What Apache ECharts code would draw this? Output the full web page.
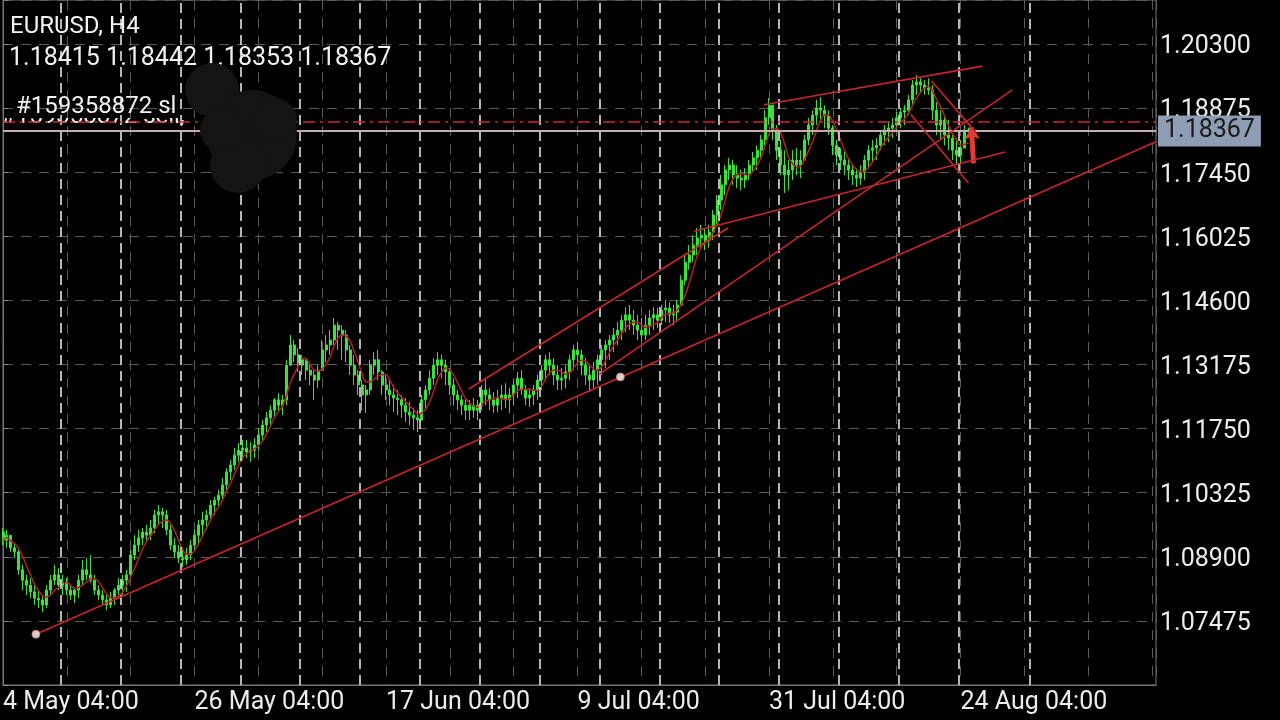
<!DOCTYPE html>
<html><head><meta charset="utf-8">
<script src="https://cdn.jsdelivr.net/npm/echarts@6/dist/echarts.min.js"></script>
<style>html,body{margin:0;padding:0;background:#000;}#c{width:1280px;height:720px;}</style>
</head><body><div id="c"></div>
<script>
const symbolTitle = 'EURUSD, H4';
const lastBarText = '1.18415 1.18442 1.18353 1.18367';
const orderLabel = '#159358872 sl';
const orderLabel2 = '#159358872 sell,';
const xTickLabels = ['4 May 04:00','26 May 04:00','17 Jun 04:00','9 Jul 04:00','31 Jul 04:00','24 Aug 04:00'];
const xLabelEvery = 48;
const yTickLabels = ['1.07475','1.08900','1.10325','1.11750','1.13175','1.14600','1.16025','1.17450','1.18875','1.20300'];
const firstOpen = 1.0945;
const highs = [
1.0954,1.0950,1.0938,1.0921,1.0905,1.0872,1.0850,1.0843,1.0827,1.0816,
1.0805,1.0827,1.0850,1.0872,1.0865,1.0850,1.0843,1.0827,1.0821,1.0850,
1.0883,1.0887,1.0894,1.0850,1.0827,1.0816,1.0805,1.0812,1.0821,1.0843,
1.0850,1.0861,1.0905,1.0938,1.0950,1.0954,1.0961,1.0972,1.0994,1.1005,
1.0999,1.0994,1.0961,1.0932,1.0916,1.0905,1.0910,1.0927,1.0950,1.0972,
1.0990,1.0994,1.1016,1.1023,1.1039,1.1065,1.1087,1.1105,1.1132,1.1143,
1.1150,1.1150,1.1145,1.1154,1.1176,1.1194,1.1212,1.1227,1.1243,1.1254,
1.1250,1.1328,1.1383,1.1372,1.1354,1.1339,1.1332,1.1323,1.1305,1.1316,
1.1372,1.1383,1.1394,1.1421,1.1412,1.1405,1.1394,1.1361,1.1339,1.1305,
1.1283,1.1272,1.1328,1.1345,1.1350,1.1305,1.1294,1.1283,1.1272,1.1261,
1.1250,1.1243,1.1234,1.1221,1.1216,1.1250,1.1272,1.1305,1.1332,1.1345,
1.1339,1.1328,1.1310,1.1287,1.1261,1.1250,1.1243,1.1239,1.1243,1.1239,
1.1272,1.1287,1.1265,1.1256,1.1261,1.1272,1.1276,1.1265,1.1283,1.1301,
1.1305,1.1272,1.1265,1.1272,1.1294,1.1316,1.1339,1.1345,1.1332,1.1316,
1.1310,1.1316,1.1339,1.1361,1.1368,1.1350,1.1332,1.1316,1.1323,1.1339,
1.1361,1.1372,1.1383,1.1399,1.1412,1.1428,1.1445,1.1450,1.1439,1.1428,
1.1421,1.1428,1.1439,1.1445,1.1443,1.1450,1.1461,1.1456,1.1450,1.1461,
1.1516,1.1561,1.1583,1.1605,1.1621,1.1628,1.1621,1.1628,1.1661,1.1694,
1.1739,1.1761,1.1777,1.1772,1.1761,1.1750,1.1754,1.1772,1.1790,1.1805,
1.1828,1.1883,1.1910,1.1894,1.1850,1.1817,1.1794,1.1772,1.1794,1.1799,
1.1794,1.1828,1.1866,1.1883,1.1906,1.1912,1.1894,1.1883,1.1850,1.1817,
1.1799,1.1790,1.1777,1.1761,1.1754,1.1761,1.1783,1.1805,1.1817,1.1821,
1.1839,1.1850,1.1857,1.1866,1.1879,1.1888,1.1894,1.1917,1.1950,1.1961,
1.1954,1.1950,1.1954,1.1939,1.1901,1.1883,1.1872,1.1861,1.1828,1.1821,
1.1817,1.1850,1.18442];
const lows = [
1.0916,1.0910,1.0901,1.0887,1.0850,1.0816,1.0805,1.0798,1.0783,1.0776,
1.0767,1.0776,1.0805,1.0827,1.0816,1.0805,1.0805,1.0794,1.0787,1.0798,
1.0827,1.0838,1.0832,1.0805,1.0794,1.0783,1.0772,1.0776,1.0783,1.0798,
1.0805,1.0812,1.0843,1.0883,1.0901,1.0916,1.0923,1.0927,1.0943,1.0961,
1.0954,1.0938,1.0905,1.0887,1.0876,1.0867,1.0872,1.0883,1.0905,1.0916,
1.0934,1.0950,1.0972,1.0983,1.0999,1.1016,1.1034,1.1061,1.1083,1.1101,
1.1105,1.1110,1.1101,1.1110,1.1127,1.1145,1.1167,1.1183,1.1199,1.1212,
1.1205,1.1227,1.1316,1.1323,1.1301,1.1294,1.1283,1.1272,1.1239,1.1265,
1.1305,1.1323,1.1339,1.1361,1.1350,1.1328,1.1323,1.1294,1.1272,1.1250,
1.1216,1.1210,1.1250,1.1294,1.1283,1.1250,1.1239,1.1227,1.1212,1.1205,
1.1199,1.1190,1.1183,1.1172,1.1167,1.1194,1.1216,1.1250,1.1272,1.1294,
1.1287,1.1272,1.1250,1.1227,1.1216,1.1205,1.1194,1.1194,1.1199,1.1194,
1.1216,1.1227,1.1216,1.1210,1.1212,1.1216,1.1221,1.1210,1.1227,1.1243,
1.1250,1.1227,1.1223,1.1227,1.1239,1.1261,1.1283,1.1294,1.1272,1.1261,
1.1261,1.1265,1.1283,1.1305,1.1316,1.1294,1.1272,1.1256,1.1265,1.1272,
1.1294,1.1310,1.1328,1.1345,1.1361,1.1372,1.1390,1.1394,1.1383,1.1372,
1.1368,1.1372,1.1383,1.1394,1.1399,1.1405,1.1412,1.1410,1.1405,1.1412,
1.1450,1.1494,1.1528,1.1545,1.1561,1.1577,1.1572,1.1577,1.1594,1.1628,
1.1661,1.1694,1.1728,1.1717,1.1710,1.1705,1.1710,1.1728,1.1745,1.1750,
1.1772,1.1805,1.1850,1.1817,1.1772,1.1739,1.1699,1.1705,1.1728,1.1739,
1.1732,1.1772,1.1805,1.1828,1.1850,1.1857,1.1843,1.1828,1.1783,1.1761,
1.1750,1.1739,1.1728,1.1717,1.1712,1.1717,1.1728,1.1754,1.1768,1.1772,
1.1794,1.1805,1.1812,1.1821,1.1834,1.1843,1.1850,1.1872,1.1894,1.1917,
1.1923,1.1917,1.1917,1.1861,1.1828,1.1817,1.1805,1.1794,1.1772,1.1761,
1.1765,1.1799,1.18353];
const closes = [
1.0927,1.0938,1.0910,1.0901,1.0861,1.0838,1.0827,1.0812,1.0798,1.0794,
1.0783,1.0816,1.0838,1.0850,1.0827,1.0834,1.0816,1.0805,1.0816,1.0838,
1.0861,1.0850,1.0838,1.0816,1.0805,1.0794,1.0783,1.0798,1.0816,1.0827,
1.0838,1.0850,1.0894,1.0916,1.0932,1.0945,1.0938,1.0954,1.0983,1.0990,
1.0983,1.0950,1.0916,1.0901,1.0887,1.0883,1.0894,1.0916,1.0938,1.0961,
1.0972,1.0983,1.1005,1.1016,1.1027,1.1050,1.1079,1.1094,1.1116,1.1127,
1.1132,1.1123,1.1127,1.1139,1.1161,1.1183,1.1199,1.1216,1.1239,1.1227,
1.1239,1.1316,1.1361,1.1339,1.1316,1.1328,1.1305,1.1294,1.1283,1.1305,
1.1350,1.1361,1.1372,1.1405,1.1394,1.1383,1.1350,1.1316,1.1294,1.1272,
1.1250,1.1261,1.1316,1.1328,1.1301,1.1272,1.1261,1.1250,1.1243,1.1239,
1.1227,1.1212,1.1205,1.1199,1.1194,1.1239,1.1261,1.1287,1.1316,1.1328,
1.1316,1.1301,1.1272,1.1250,1.1239,1.1227,1.1216,1.1227,1.1216,1.1227,
1.1261,1.1250,1.1239,1.1227,1.1243,1.1250,1.1239,1.1250,1.1272,1.1287,
1.1261,1.1243,1.1250,1.1261,1.1283,1.1305,1.1328,1.1316,1.1294,1.1283,
1.1287,1.1301,1.1328,1.1350,1.1339,1.1316,1.1294,1.1283,1.1305,1.1328,
1.1350,1.1361,1.1372,1.1383,1.1394,1.1416,1.1428,1.1416,1.1405,1.1394,
1.1383,1.1405,1.1421,1.1428,1.1416,1.1439,1.1443,1.1428,1.1434,1.1450,
1.1505,1.1545,1.1561,1.1583,1.1599,1.1605,1.1594,1.1612,1.1650,1.1683,
1.1717,1.1750,1.1761,1.1739,1.1732,1.1728,1.1739,1.1761,1.1777,1.1794,
1.1817,1.1866,1.1894,1.1839,1.1794,1.1761,1.1739,1.1750,1.1772,1.1761,
1.1772,1.1817,1.1850,1.1872,1.1888,1.1883,1.1872,1.1843,1.1805,1.1783,
1.1772,1.1761,1.1750,1.1739,1.1732,1.1745,1.1772,1.1794,1.1799,1.1805,
1.1828,1.1839,1.1843,1.1850,1.1866,1.1879,1.1883,1.1906,1.1939,1.1946,
1.1939,1.1932,1.1928,1.1883,1.1850,1.1861,1.1828,1.1821,1.1794,1.1783,
1.1799,1.1839,1.18367];
const bidPrice = 1.18367;
const slPrice = 1.1858;
const weekStarts = [14.5,29.5,44.5,59.5,74.5,89.5,104.5,119.5,134.5,149.5,164.5,179.5,194.5,209.5,224.5,239.5,257.25];
const trendLines = [
  [[8.25,1.0718],[289,1.1813]],
  [[116.75,1.1263],[181.75,1.1621]],
  [[149.5,1.1296],[253,1.1928]],
  [[173.25,1.1614],[251.25,1.1790]],
  [[190.75,1.1895],[245.5,1.1981]],
  [[232.75,1.1948],[244,1.1832]],
  [[227.5,1.1874],[242,1.1721]]
];
const anchorPoints = [[8.25,1.0718],[154.75,1.1290]];
const arrowLine = [[243.25,1.1765],[242.75,1.1845]];
const maPeriod = 5;

const candleData = closes.map((c, i) => [i, i === 0 ? firstOpen : closes[i-1], c, lows[i], highs[i]]);
const maData = closes.map((c, i) => {
  const s = Math.max(0, i - maPeriod + 1);
  let sum = 0; for (let k = s; k <= i; k++) sum += closes[k];
  return [i, +(sum / (i - s + 1)).toFixed(5)];
});

const RED = '#c8262b';
const GREEN = '#36e636';
const FONT = 'Roboto';

const series = [
  {
    type: 'line', data: [], z: 1, silent: true,
    markLine: { silent: true, symbol: ['none','none'], label: {show: false}, precision: 5,
      lineStyle: {color: '#e2e2e2', type: [10,6], width: 1.6},
      data: weekStarts.map(w => ({xAxis: w})) }
  },
  {
    type: 'candlestick', z: 3,
    dimensions: ['idx','open','close','lowest','highest'],
    encode: {x: 'idx', y: ['open','close','lowest','highest']},
    data: candleData, barWidth: 2.5,
    itemStyle: {color: GREEN, color0: GREEN, borderColor: GREEN, borderColor0: GREEN, borderWidth: 1},
    markLine: {
      silent: true, symbol: ['none','none'], animation: false, precision: 5,
      data: [
        {yAxis: slPrice, lineStyle: {color: '#d0282d', type: [12,5,3,5], width: 1.5}, label: {show: false}},
        {yAxis: bidPrice, lineStyle: {color: '#c9aab2', type: 'solid', width: 2},
          label: {show: true, position: 'end', distance: 2, formatter: bidPrice.toFixed(5),
            backgroundColor: '#8e9db4', color: '#1a1a1a', fontSize: 25, fontFamily: FONT,
            padding: [4, 6, 2, 6]}}
      ]
    }
  },
  {
    type: 'line', data: maData, z: 4, showSymbol: false, smooth: 0.4, silent: true,
    lineStyle: {color: '#b51f24', width: 1.5}
  }
];
trendLines.forEach(tl => series.push({
  type: 'line', data: tl, z: 5, showSymbol: false, silent: true,
  lineStyle: {color: RED, width: 1.6}
}));
series.push({
  type: 'scatter', data: anchorPoints, z: 6, symbolSize: 8, silent: true,
  itemStyle: {color: '#ffffff', borderColor: '#e07070', borderWidth: 1}
});
series.push({
  type: 'line', data: [], z: 7, silent: true,
  markLine: {silent: true, symbol: ['none','arrow'], symbolSize: [12, 12], label: {show: false}, precision: 5,
    lineStyle: {color: '#e23b36', width: 5, type: 'solid'},
    data: [[{coord: arrowLine[0]}, {coord: arrowLine[1]}]]}
});

const blob = [[212,90,27],[252,135,45],[238,165,28],[275,120,22],[222,130,22]];

const option = {
  backgroundColor: '#000000',
  animation: false,
  textStyle: {fontFamily: FONT},
  grid: {left: 0, right: 124, top: 0, bottom: 35, show: true, borderColor: '#777', borderWidth: 1, backgroundColor: 'transparent'},
  xAxis: {
    type: 'value', min: 0, max: 289, interval: 16,
    axisLine: {show: true, lineStyle: {color: '#777'}},
    axisTick: {show: false},
    splitLine: {show: true, lineStyle: {color: '#5a5a5a', type: [10,8], width: 1}},
    axisLabel: {
      color: '#ececec', fontSize: 25, fontFamily: FONT, margin: 5, align: 'left',
      formatter: v => {
        const r = Math.round(v);
        if (Math.abs(v - r) > 1e-6 || r % xLabelEvery !== 0) return '';
        return xTickLabels[r / xLabelEvery] || '';
      }
    }
  },
  yAxis: {
    type: 'value', position: 'right', min: 1.0605, max: 1.2128, interval: 0.01425,
    axisLine: {show: true, lineStyle: {color: '#777'}},
    axisTick: {show: true, length: 5, lineStyle: {color: '#888'}},
    splitLine: {show: true, lineStyle: {color: '#5a5a5a', type: [10,8], width: 1}},
    axisLabel: {
      color: '#ececec', fontSize: 25, fontFamily: FONT, margin: 4,
      rich: {v: {fontSize: 25, fontFamily: FONT, color: '#ececec', padding: [6, 0, 0, 0]}},
      formatter: v => { const s = v.toFixed(5); return yTickLabels.includes(s) ? '{v|' + s + '}' : ''; }
    }
  },
  graphic: [
    {type: 'text', x: 1, y: 117, z: -2, silent: true,
      style: {text: orderLabel2, fill: '#eeeeee', font: '24px Roboto', verticalAlign: 'middle'}},
    {type: 'rect', z: -1, silent: true, shape: {x: 0, y: 96, width: 205, height: 22}, style: {fill: '#000'}},
    {type: 'text', x: 16, y: 106.5, z: 8, silent: true,
      style: {text: orderLabel, fill: '#f2f2f2', font: '24px Roboto', verticalAlign: 'middle'}},
    {type: 'text', x: 10, y: 27, z: 8, silent: true,
      style: {text: symbolTitle, fill: '#f2f2f2', font: '24px Roboto', verticalAlign: 'middle'}},
    {type: 'text', x: 9, y: 58.5, z: 8, silent: true,
      style: {text: lastBarText, fill: '#f2f2f2', font: '25px Roboto', verticalAlign: 'middle'}}
  ].concat(blob.map(b => ({type: 'circle', z: 20, silent: true, shape: {cx: b[0], cy: b[1], r: b[2]}, style: {fill: '#141414'}}))),
  series: series
};
const chart = echarts.init(document.getElementById('c'));
chart.setOption(option);
</script></body></html>
